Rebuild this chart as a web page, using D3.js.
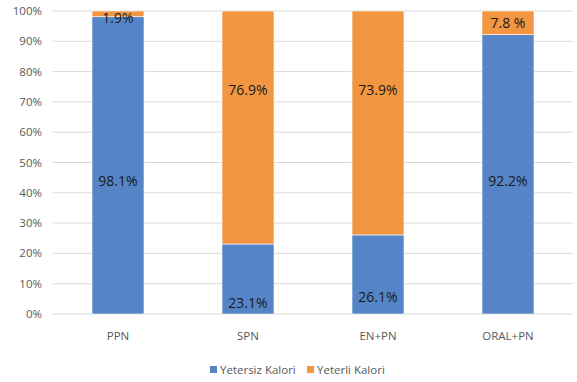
<!DOCTYPE html>
<html>
<head>
<meta charset="utf-8">
<script src="https://cdn.jsdelivr.net/npm/d3@7"></script>
<style>
  body { margin: 0; background: #fff; }
  svg { display: block; font-family: "Open Sans", "Liberation Sans", sans-serif; }
</style>
</head>
<body>
<div id="chart"></div>
<script>
const categories = ["PPN", "SPN", "EN+PN", "ORAL+PN"];
const yetersiz = [98.1, 23.1, 26.1, 92.2];
const yeterli = [1.9, 76.9, 73.9, 7.8];
const yetersizText = ["98.1%", "23.1%", "26.1%", "92.2%"];
const yeterliText = ["1.9%", "76.9%", "73.9%", "7.8 %"];
// where each label sits, in axis units (%)
const yetersizLabelAt = [44, 3.6, 5.6, 44];
const yeterliLabelAt = [97.7, 74, 74, 96];
const seriesNames = ["Yetersiz Kalori", "Yeterli Kalori"];
const yTicks = [0, 10, 20, 30, 40, 50, 60, 70, 80, 90, 100];

const width = 577, height = 382;
const colors = ["#5585c6", "#f39641"];

const svg = d3.select("#chart").append("svg")
  .attr("width", width).attr("height", height);

const x = d3.scaleBand().domain(categories).range([53, 573])
  .paddingInner(0.6).paddingOuter(0.3);
const y = d3.scaleLinear().domain([0, 100]).range([314, 11]);

// gridlines
svg.append("g").selectAll("line").data(yTicks).join("line")
  .attr("x1", 53).attr("x2", 573)
  .attr("y1", (d) => y(d)).attr("y2", (d) => y(d))
  .attr("stroke", "#d9d9d9").attr("stroke-width", 1);

// y tick labels
svg.append("g").selectAll("text").data(yTicks).join("text")
  .attr("x", 42).attr("y", (d) => y(d))
  .attr("dy", "0.35em").attr("text-anchor", "end")
  .attr("fill", "#595959").style("font-size", "11.5px")
  .text((d) => d + "%");

// stacked bars
const rows = categories.map((c, i) => ({ cat: c, a: yetersiz[i], b: yeterli[i] }));
const stack = d3.stack().keys(["a", "b"])(rows);

svg.append("g").selectAll("g").data(stack).join("g")
  .attr("fill", (d, i) => colors[i])
  .selectAll("rect").data((d) => d).join("rect")
  .attr("x", (d) => x(d.data.cat))
  .attr("width", x.bandwidth())
  .attr("y", (d) => y(Math.min(d[1], 100)))
  .attr("height", (d) => y(d[0]) - y(Math.min(d[1], 100)))
  .attr("stroke", "#fff").attr("stroke-width", 0.6);

// value labels
const labelGroup = svg.append("g").attr("text-anchor", "middle")
  .attr("fill", "#1a1a1a").style("font-size", "14px");
categories.forEach((c, i) => {
  labelGroup.append("text")
    .attr("x", x(c) + x.bandwidth() / 2).attr("y", y(yetersizLabelAt[i]))
    .attr("dy", "0.35em").text(yetersizText[i]);
  labelGroup.append("text")
    .attr("x", x(c) + x.bandwidth() / 2).attr("y", y(yeterliLabelAt[i]))
    .attr("dy", "0.35em").text(yeterliText[i]);
});

// x labels
svg.append("g").selectAll("text").data(categories).join("text")
  .attr("x", (d) => x(d) + x.bandwidth() / 2).attr("y", 336)
  .attr("dy", "0.35em").attr("text-anchor", "middle")
  .attr("fill", "#595959").style("font-size", "11.5px")
  .text((d) => d);

// legend
const legendX = [210, 307];
const legend = svg.append("g").selectAll("g").data(seriesNames).join("g")
  .attr("transform", (d, i) => `translate(${legendX[i]}, 370)`);
legend.append("rect").attr("x", 0).attr("y", -4).attr("width", 7).attr("height", 7)
  .attr("fill", (d, i) => colors[i]);
legend.append("text").attr("x", 10).attr("y", 0).attr("dy", "0.35em")
  .attr("fill", "#595959").style("font-size", "11.5px")
  .text((d) => d);
</script>
</body>
</html>
